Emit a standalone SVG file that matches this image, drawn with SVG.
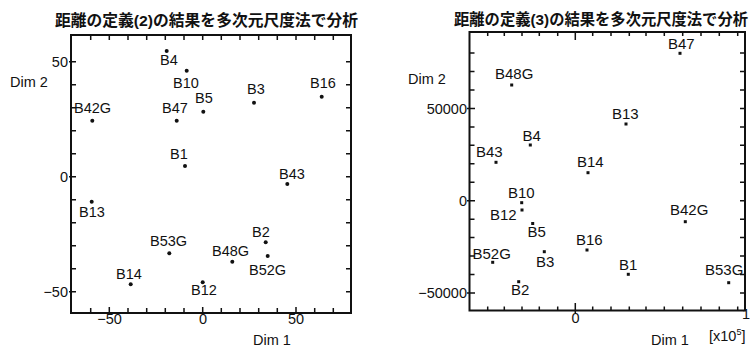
<svg xmlns="http://www.w3.org/2000/svg" width="753" height="349" viewBox="0 0 753 349">
<style>
text{font-family:"Liberation Sans","Noto Sans CJK JP",sans-serif;fill:#111}
.t{font-size:15.5px;font-weight:bold}
.l{font-size:14.5px}
.r{font-size:15px}
.ax{font-size:14.5px}
.frame{fill:none;stroke:#111;stroke-width:2}
.tick{fill:none;stroke:#111;stroke-width:1.5}
.dot{fill:#111}
.e{text-anchor:end}
.m{text-anchor:middle}
</style>
<rect width="753" height="349" fill="#fff"/>

<g id="left-plot">
<text class="t" x="55" y="26" textLength="303" lengthAdjust="spacingAndGlyphs">距離の定義(2)の結果を多次元尺度法で分析</text>
<rect class="frame" x="71" y="35" width="280" height="278"/>
<path class="tick" d="M90.7 313v-5M109.3 313v-6M128 313v-5M146.7 313v-5M165.3 313v-5M184 313v-5M202.7 313v-6M221.3 313v-5M240 313v-5M258.7 313v-5M277.3 313v-5M296 313v-6M314.7 313v-5M333.3 313v-5
M90.7 35v5M109.3 35v5M128 35v5M146.7 35v5M165.3 35v5M184 35v5M202.7 35v5M221.3 35v5M240 35v5M258.7 35v5M277.3 35v5M296 35v5M314.7 35v5M333.3 35v5
M69 291.7h7M70 268.7h6M70 245.7h6M70 222.7h6M70 199.7h6M69 176.7h7M70 153.7h6M70 130.7h6M70 107.7h6M70 84.7h6M69 61.7h7
M351 291.7h-5M351 268.7h-5M351 245.7h-5M351 222.7h-5M351 199.7h-5M351 176.7h-5M351 153.7h-5M351 130.7h-5M351 107.7h-5M351 84.7h-5M351 61.7h-5"/>
<text class="ax e" x="68" y="66.7">50</text>
<text class="ax e" x="68" y="181.7">0</text>
<text class="ax e" x="68" y="296.7">−50</text>
<text class="ax m" x="109.5" y="324">−50</text>
<text class="ax m" x="203" y="324">0</text>
<text class="ax m" x="296" y="324">50</text>
<text class="ax" x="10" y="87">Dim 2</text>
<text class="ax" x="253" y="345">Dim 1</text>
</g>

<g id="left-points">
<g id="L-B4"><circle class="dot" cx="166.7" cy="51" r="2"/><text class="l" x="160" y="65">B4</text></g>
<g id="L-B10"><circle class="dot" cx="186.7" cy="70.7" r="2"/><text class="l" x="173" y="88">B10</text></g>
<g id="L-B3"><circle class="dot" cx="254" cy="102.7" r="2"/><text class="l" x="247" y="94">B3</text></g>
<g id="L-B16"><circle class="dot" cx="321.7" cy="96.7" r="2"/><text class="l" x="310" y="88">B16</text></g>
<g id="L-B5"><circle class="dot" cx="203.3" cy="111.7" r="2"/><text class="l" x="195" y="103">B5</text></g>
<g id="L-B47"><circle class="dot" cx="176.7" cy="120.7" r="2"/><text class="l" x="162" y="113">B47</text></g>
<g id="L-B42G"><circle class="dot" cx="92.3" cy="120.7" r="2"/><text class="l" x="74" y="113">B42G</text></g>
<g id="L-B1"><circle class="dot" cx="185" cy="166" r="2"/><text class="l" x="170" y="159">B1</text></g>
<g id="L-B43"><circle class="dot" cx="287.3" cy="184" r="2"/><text class="l" x="279" y="179">B43</text></g>
<g id="L-B13"><circle class="dot" cx="91.7" cy="201.7" r="2"/><text class="l" x="79" y="216.5">B13</text></g>
<g id="L-B2"><circle class="dot" cx="265.7" cy="242.3" r="2"/><text class="l" x="252" y="237">B2</text></g>
<g id="L-B53G"><circle class="dot" cx="169.3" cy="253.3" r="2"/><text class="l" x="150" y="245.5">B53G</text></g>
<g id="L-B48G"><circle class="dot" cx="232.3" cy="261.7" r="2"/><text class="l" x="212" y="256">B48G</text></g>
<g id="L-B52G"><circle class="dot" cx="267.7" cy="256" r="2"/><text class="l" x="249" y="275">B52G</text></g>
<g id="L-B14"><circle class="dot" cx="130.7" cy="284.3" r="2"/><text class="l" x="116" y="278.5">B14</text></g>
<g id="L-B12"><circle class="dot" cx="202.7" cy="282.3" r="2"/><text class="l" x="191" y="295">B12</text></g>
</g>

<g id="right-plot">
<text class="t" x="454" y="25" textLength="294" lengthAdjust="spacingAndGlyphs">距離の定義(3)の結果を多次元尺度法で分析</text>
<rect class="frame" x="469.5" y="32" width="275.5" height="278.5"/>
<path class="tick" d="M487.7 310.5v-4M504.3 310.5v-4M522 310.5v-4M539.3 310.5v-4M557.7 310.5v-4M575.3 313v-10M592.7 310.5v-4M611 310.5v-4M629.3 310.5v-4M646 310.5v-4M664.3 310.5v-4M682.7 310.5v-4M701 310.5v-4M719.3 310.5v-4M737.7 310.5v-4
M487.7 32v4M504.3 32v4M522 32v4M539.3 32v4M557.7 32v4M575.3 32v8M592.7 32v4M611 32v4M629.3 32v4M646 32v4M664.3 32v4M682.7 32v4M701 32v4M719.3 32v4M737.7 32v4
M467 292.95h8M469.5 274.5h5M469.5 256.05h5M469.5 237.6h5M469.5 219.15h5M467 200.7h8M469.5 182.25h5M469.5 163.8h5M469.5 145.35h5M469.5 126.9h5M467 108.45h8M469.5 90h5M469.5 71.55h5M469.5 53.1h5
M745 292.95h-5M745 274.5h-5M745 256.05h-5M745 237.6h-5M745 219.15h-5M745 200.7h-5M745 182.25h-5M745 163.8h-5M745 145.35h-5M745 126.9h-5M745 108.45h-5M745 90h-5M745 71.55h-5M745 53.1h-5"/>
<text class="ax e" x="467" y="113.5">50000</text>
<text class="ax e" x="467" y="206">0</text>
<text class="ax e" x="467" y="298">−50000</text>
<text class="ax m" x="575.5" y="323">0</text>
<text class="ax m" x="746" y="319">1</text>
<text class="ax" x="408" y="83.5">Dim 2</text>
<text class="ax" x="651" y="345">Dim 1</text>
<text class="ax" x="709" y="341" font-size="13">[x10<tspan dy="-6" font-size="9">5</tspan><tspan dy="6">]</tspan></text>
</g>

<g id="right-points">
<g id="R-B47"><rect class="dot" x="678.5" y="51.8" width="3" height="3"/><text class="r" x="668" y="48.5">B47</text></g>
<g id="R-B48G"><rect class="dot" x="510.2" y="83.5" width="3" height="3"/><text class="r" x="495" y="78.5">B48G</text></g>
<g id="R-B13"><rect class="dot" x="624.5" y="122.5" width="3" height="3"/><text class="r" x="612" y="119">B13</text></g>
<g id="R-B4"><rect class="dot" x="528.8" y="143.5" width="3" height="3"/><text class="r" x="522.5" y="141">B4</text></g>
<g id="R-B43"><rect class="dot" x="494.5" y="160.8" width="3" height="3"/><text class="r" x="476" y="157">B43</text></g>
<g id="R-B14"><rect class="dot" x="586.5" y="171.2" width="3" height="3"/><text class="r" x="577" y="167">B14</text></g>
<g id="R-B10"><rect class="dot" x="520.2" y="201.2" width="3" height="3"/><text class="r" x="508" y="197.5">B10</text></g>
<g id="R-B12"><rect class="dot" x="520.5" y="208.5" width="3" height="3"/><text class="r" x="490" y="220">B12</text></g>
<g id="R-B42G"><rect class="dot" x="683.8" y="220.2" width="3" height="3"/><text class="r" x="670" y="215">B42G</text></g>
<g id="R-B5"><rect class="dot" x="531.2" y="222" width="3" height="3"/><text class="r" x="527.5" y="236.5">B5</text></g>
<g id="R-B16"><rect class="dot" x="585.5" y="248.5" width="3" height="3"/><text class="r" x="576" y="245">B16</text></g>
<g id="R-B52G"><rect class="dot" x="491.2" y="260.8" width="3" height="3"/><text class="r" x="472.5" y="258.5">B52G</text></g>
<g id="R-B3"><rect class="dot" x="542.8" y="250.2" width="3" height="3"/><text class="r" x="536" y="266.5">B3</text></g>
<g id="R-B1"><rect class="dot" x="626.8" y="272.8" width="3" height="3"/><text class="r" x="619" y="270">B1</text></g>
<g id="R-B53G"><rect class="dot" x="727.2" y="281.2" width="3" height="3"/><text class="r" x="705" y="275">B53G</text></g>
<g id="R-B2"><rect class="dot" x="517.2" y="280.2" width="3" height="3"/><text class="r" x="511" y="295">B2</text></g>
</g>
</svg>
